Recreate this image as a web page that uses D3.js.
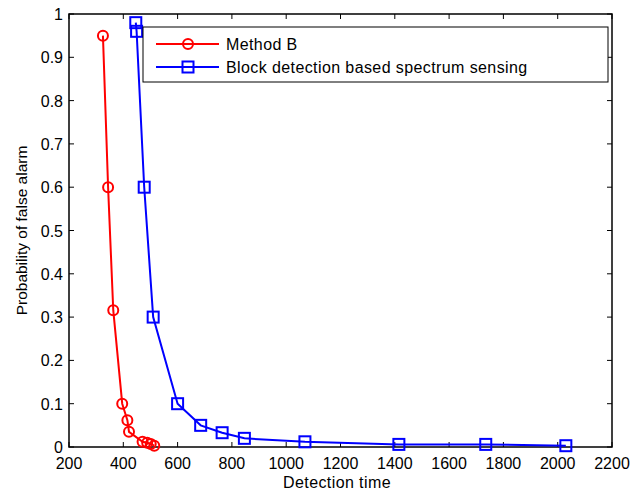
<!DOCTYPE html>
<html>
<head>
<meta charset="utf-8">
<script src="https://cdn.jsdelivr.net/npm/d3@7"></script>
<style>
  body { margin: 0; background: #fff; }
  svg { font-family: "Liberation Sans", Arial, sans-serif; }
</style>
</head>
<body>
<svg id="chart" width="630" height="496"></svg>
<script>
// Method B
let methodBTime = [325, 344, 363, 396, 415, 421, 471, 488, 501, 514];
let methodBPfa  = [0.95, 0.6, 0.316, 0.1, 0.062, 0.035, 0.012, 0.01, 0.007, 0.003];

// Block detection based spectrum sensing
let blockTime = [446, 449, 477, 510, 600, 685, 764, 846, 1069, 1415, 1735, 2030];
let blockPfa  = [0.98, 0.96, 0.6, 0.3, 0.1, 0.05, 0.033, 0.02, 0.012, 0.006, 0.006, 0.003];

let xTicks = [200, 400, 600, 800, 1000, 1200, 1400, 1600, 1800, 2000, 2200];
let yTicks = [0, 0.1, 0.2, 0.3, 0.4, 0.5, 0.6, 0.7, 0.8, 0.9, 1];

const svg = d3.select('#chart');
const plotLeft = 69, plotRight = 612, plotTop = 14, plotBottom = 447;

let x = d3.scaleLinear().domain([200, 2200]).range([plotLeft, plotRight]);
let y = d3.scaleLinear().domain([0, 1]).range([plotBottom, plotTop]);

// box
svg.append('rect')
    .attr('x', plotLeft).attr('y', plotTop)
    .attr('width', plotRight - plotLeft).attr('height', plotBottom - plotTop)
    .attr('fill', 'none').attr('stroke', 'black').attr('stroke-width', 1.5);

// ticks, pointing inward on all four sides
xTicks.forEach(t => {
    svg.append('line').attr('x1', x(t)).attr('x2', x(t))
        .attr('y1', plotBottom).attr('y2', plotBottom - 5).attr('stroke', 'black');
    svg.append('line').attr('x1', x(t)).attr('x2', x(t))
        .attr('y1', plotTop).attr('y2', plotTop + 5).attr('stroke', 'black');
    svg.append('text')
        .attr('x', x(t)).attr('y', 469)
        .attr('text-anchor', 'middle').attr('font-size', 16)
        .text(t);
});
yTicks.forEach(t => {
    svg.append('line').attr('x1', plotLeft).attr('x2', plotLeft + 5)
        .attr('y1', y(t)).attr('y2', y(t)).attr('stroke', 'black');
    svg.append('line').attr('x1', plotRight).attr('x2', plotRight - 5)
        .attr('y1', y(t)).attr('y2', y(t)).attr('stroke', 'black');
    svg.append('text')
        .attr('x', plotLeft - 6).attr('y', y(t) + 6)
        .attr('text-anchor', 'end').attr('font-size', 16)
        .text(t);
});

// axis titles
svg.append('text')
    .attr('x', 337).attr('y', 488)
    .attr('text-anchor', 'middle').attr('font-size', 16)
    .attr('letter-spacing', 0.4)
    .text('Detection time');
svg.append('text')
    .attr('transform', `translate(27,${(plotTop + plotBottom) / 2}) rotate(-90)`)
    .attr('text-anchor', 'middle').attr('font-size', 15.5)
    .text('Probability of false alarm');

let line = d3.line().x(d => x(d[0])).y(d => y(d[1]));

let redData = methodBTime.map((t, i) => [t, methodBPfa[i]]);
let blueData = blockTime.map((t, i) => [t, blockPfa[i]]);

svg.append('path').datum(redData)
    .attr('d', line).attr('fill', 'none')
    .attr('stroke', 'red').attr('stroke-width', 2);
svg.selectAll('.redPt').data(redData).join('circle')
    .attr('class', 'redPt')
    .attr('cx', d => x(d[0])).attr('cy', d => y(d[1])).attr('r', 5)
    .attr('fill', 'none').attr('stroke', 'red').attr('stroke-width', 2);

svg.append('path').datum(blueData)
    .attr('d', line).attr('fill', 'none')
    .attr('stroke', 'blue').attr('stroke-width', 2);
svg.selectAll('.bluePt').data(blueData).join('rect')
    .attr('class', 'bluePt')
    .attr('x', d => x(d[0]) - 5.5).attr('y', d => y(d[1]) - 5.5)
    .attr('width', 11).attr('height', 11)
    .attr('fill', 'none').attr('stroke', 'blue').attr('stroke-width', 2);

// legend
let legend = svg.append('g');
legend.append('rect')
    .attr('x', 143).attr('y', 27).attr('width', 465).attr('height', 55)
    .attr('fill', 'white').attr('stroke', 'black').attr('stroke-width', 1);
let entries = [
    {name: 'Method B', color: 'red', shape: 'circle'},
    {name: 'Block detection based spectrum sensing', color: 'blue', shape: 'square'}
];
entries.forEach((e, i) => {
    let ly = 44 + i * 23;
    legend.append('line').attr('x1', 156).attr('x2', 219)
        .attr('y1', ly).attr('y2', ly)
        .attr('stroke', e.color).attr('stroke-width', 2);
    if (e.shape === 'circle') {
        legend.append('circle').attr('cx', 188).attr('cy', ly).attr('r', 5)
            .attr('fill', 'none').attr('stroke', e.color).attr('stroke-width', 2);
    } else {
        legend.append('rect').attr('x', 182.5).attr('y', ly - 5.5)
            .attr('width', 11).attr('height', 11)
            .attr('fill', 'none').attr('stroke', e.color).attr('stroke-width', 2);
    }
    legend.append('text').attr('x', 226).attr('y', ly + 6)
        .attr('font-size', 16).attr('letter-spacing', 0.4).text(e.name);
});
</script>
</body>
</html>
